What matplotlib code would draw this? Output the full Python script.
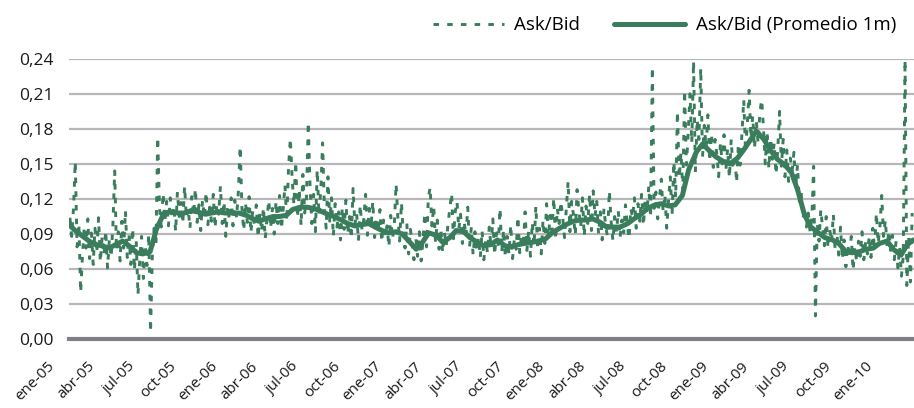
import matplotlib
matplotlib.use("Agg")
import matplotlib.pyplot as plt
import matplotlib.transforms as mtransforms
import numpy as np
import pandas as pd

plt.rcParams['font.family'] = ['Open Sans', 'DejaVu Sans']

# Ask/Bid (serie diaria, muestreada cada ~4 días), en milésimas
ask_bid_2005 = [104, 88, 112, 152, 79, 99, 40, 71, 96, 78, 103, 69, 91, 64, 95, 74, 104, 66, 88, 72,
                93, 61, 85, 70, 98, 144, 76, 92, 67, 101, 78, 110, 70, 89, 64, 95, 59, 84, 38, 69,
                88, 52, 81, 63, 90, 6, 72, 95, 79, 173, 112, 96, 125, 101, 118, 97, 121, 103, 114, 92,
                126, 105, 117, 99, 131, 104, 112, 95, 122, 106, 129, 100, 115, 93, 119, 104, 126, 98, 113, 101,
                124, 95, 116, 107, 131, 99, 118, 88, 114, 102, 121]
ask_bid_2006 = [97, 119, 104, 126, 165, 112, 93, 117, 100, 122, 91, 110, 96, 115, 87, 108, 92, 113, 86, 104,
                119, 95, 112, 90, 118, 99, 123, 94, 111, 132, 101, 147, 172, 138, 115, 152, 104, 128, 97, 141,
                108, 120, 186, 131, 99, 124, 92, 145, 106, 128, 168, 113, 95, 139, 101, 121, 88, 116, 96, 109,
                85, 113, 94, 119, 90, 105, 86, 129, 98, 108, 84, 115, 93, 103, 124, 89, 112, 95, 118, 87,
                104, 92, 111, 83, 102, 88, 97, 79, 106, 86, 97, 133]
ask_bid_2007 = [104, 84, 117, 91, 78, 99, 73, 94, 81, 68, 87, 71, 92, 67, 84, 108, 79, 121, 130, 97,
                114, 83, 102, 77, 95, 74, 91, 80, 99, 112, 125, 86, 109, 118, 94, 107, 82, 101, 88, 113,
                79, 96, 72, 92, 76, 87, 70, 93, 68, 85, 74, 96, 78, 103, 72, 91, 81, 112, 75, 94,
                70, 88, 73, 98, 69, 86, 77, 105, 74, 90, 79, 109, 76, 93, 71, 100, 80, 114, 77, 95,
                73, 102, 82, 116, 88, 106, 93, 121, 85, 112, 99, 118]
ask_bid_2008 = [104, 87, 112, 135, 92, 118, 106, 89, 128, 110, 96, 121, 88, 114, 99, 124, 93, 127, 105, 118,
                90, 109, 85, 112, 96, 88, 127, 101, 84, 105, 92, 110, 87, 102, 91, 115, 98, 86, 112, 104,
                121, 95, 116, 101, 124, 97, 119, 108, 131, 104, 233, 112, 126, 103, 121, 137, 109, 124, 95, 118,
                139, 106, 152, 121, 195, 138, 160, 127, 213, 149, 176, 210, 168, 238, 143, 188, 171, 232, 156, 183,
                164, 192, 152, 176, 147, 171, 158, 139, 168, 150, 175, 144]
ask_bid_2009 = [163, 138, 171, 145, 158, 134, 167, 149, 176, 205, 160, 184, 213, 172, 191, 163, 187, 168, 194, 205,
                181, 150, 178, 146, 172, 154, 168, 141, 163, 195, 148, 171, 139, 162, 135, 155, 144, 160, 131, 149,
                118, 127, 103, 112, 96, 108, 92, 104, 148, 20, 99, 84, 111, 95, 80, 105, 78, 94, 83, 107,
                76, 90, 72, 96, 68, 85, 62, 81, 70, 88, 59, 79, 66, 84, 71, 92, 68, 83, 73, 88,
                70, 95, 76, 108, 82, 97, 123, 88, 102, 79, 93]
ask_bid_2010 = [76, 89, 68, 84, 61, 79, 54, 71, 239, 46, 88, 49, 108]

# Ask/Bid promedio 1 mes (lecturas quincenales)
promedio_1m = [0.098, 0.093, 0.088, 0.084, 0.081, 0.080, 0.078, 0.081, 0.084, 0.080, 0.074, 0.073, 0.075, 0.094,
               0.108, 0.109, 0.108, 0.108, 0.110, 0.109, 0.107, 0.108, 0.109, 0.108, 0.108, 0.108, 0.106, 0.103,
               0.101, 0.103, 0.105, 0.105, 0.106, 0.111, 0.113, 0.113, 0.112, 0.110, 0.107, 0.105, 0.102, 0.099,
               0.097, 0.098, 0.099, 0.096, 0.093, 0.091, 0.092, 0.090, 0.083, 0.077, 0.083, 0.091, 0.089, 0.083,
               0.087, 0.093, 0.092, 0.087, 0.083, 0.080, 0.081, 0.085, 0.080, 0.079, 0.081, 0.082, 0.083, 0.084,
               0.086, 0.091, 0.095, 0.098, 0.101, 0.102, 0.102, 0.103, 0.100, 0.096, 0.096, 0.096, 0.099, 0.103,
               0.107, 0.112, 0.115, 0.116, 0.114, 0.115, 0.123, 0.145, 0.160, 0.167, 0.161, 0.156, 0.152, 0.150,
               0.155, 0.162, 0.170, 0.178, 0.171, 0.162, 0.154, 0.150, 0.143, 0.128, 0.106, 0.096, 0.091, 0.087,
               0.085, 0.082, 0.075, 0.074, 0.075, 0.077, 0.078, 0.082, 0.084, 0.077, 0.072, 0.081, 0.085]

tick_labels = ['ene-05', 'abr-05', 'jul-05', 'oct-05', 'ene-06', 'abr-06', 'jul-06', 'oct-06',
               'ene-07', 'abr-07', 'jul-07', 'oct-07', 'ene-08', 'abr-08', 'jul-08', 'oct-08',
               'ene-09', 'abr-09', 'jul-09', 'oct-09', 'ene-10']

ask_bid = np.array(ask_bid_2005 + ask_bid_2006 + ask_bid_2007 + ask_bid_2008
                   + ask_bid_2009 + ask_bid_2010) / 1000
fechas = pd.date_range('2005-01-03', '2010-02-26', periods=len(ask_bid))
fechas_prom = pd.date_range('2005-01-01', periods=len(promedio_1m), freq='SMS')
fechas_ticks = pd.date_range('2005-01-01', periods=len(tick_labels), freq='QS')

verde = '#3a7d5d'

fig = plt.figure(figsize=(9.14, 4.08), dpi=100)
ax = fig.add_axes([69 / 914, 1 - 339.3 / 408, 845 / 914, 280.6 / 408])

ax.plot(fechas, ask_bid, color=verde, lw=2.1, dashes=(1.9, 2.8), label='Ask/Bid')
ax.plot(fechas_prom, promedio_1m, color=verde, lw=3.6, solid_capstyle='round',
        label='Ask/Bid (Promedio 1m)')

ax.set_ylim(0, 0.24)
ax.set_xlim(pd.Timestamp('2005-01-01'), pd.Timestamp('2010-03-02'))
ax.set_yticks(np.arange(0, 0.241, 0.03))
ax.set_yticklabels([f'{v:.2f}'.replace('.', ',') for v in np.arange(0, 0.241, 0.03)])
ax.set_xticks(fechas_ticks)
ax.set_xticklabels(tick_labels, rotation=45, ha='right', va='center', rotation_mode='anchor')

ax.grid(axis='y', color='#b7b7bb', lw=1.6)
ax.set_axisbelow(True)
for s in ['top', 'left', 'right']:
    ax.spines[s].set_visible(False)
ax.spines['bottom'].set_color('#7f7f85')
ax.spines['bottom'].set_linewidth(3)
ax.tick_params(length=0, labelsize=12.5, colors='#1a1a1a')
ax.tick_params(axis='y', pad=11)
ax.tick_params(axis='x', pad=0, labelsize=11)

# etiquetas del eje x desplazadas hacia abajo-izquierda como en el original
off = mtransforms.ScaledTranslation(-0.17, -0.25, fig.dpi_scale_trans)
for lbl in ax.get_xticklabels():
    lbl.set_transform(lbl.get_transform() + off)

fig.legend(loc='center', bbox_to_anchor=(0.727, 0.938), ncol=2, frameon=False,
           fontsize=13.5, handlelength=3.8, handletextpad=0.55, columnspacing=1.8)

fig.savefig('out.png', dpi=100)
